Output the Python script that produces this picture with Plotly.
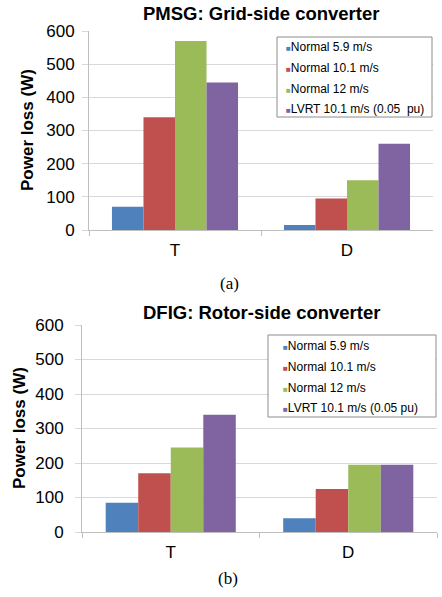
import plotly.graph_objects as go

# ---------------- data ----------------
categories = ["T", "D"]
series_names = ["Normal 5.9 m/s", "Normal 10.1 m/s", "Normal 12 m/s", "LVRT 10.1 m/s (0.05 pu)"]
series_colors = ["#4F81BD", "#C0504D", "#9BBB59", "#8064A2"]

# PMSG: Grid-side converter (W)
pmsg_normal_59 = [70, 15]
pmsg_normal_101 = [340, 95]
pmsg_normal_12 = [570, 150]
pmsg_lvrt_101 = [445, 260]

# DFIG: Rotor-side converter (W)
dfig_normal_59 = [85, 40]
dfig_normal_101 = [170, 125]
dfig_normal_12 = [245, 195]
dfig_lvrt_101 = [340, 195]

y_ticks = [0, 100, 200, 300, 400, 500, 600]

W, H = 442, 597
FONT = "Arial, Liberation Sans, sans-serif"

def px_x(x):
    return x / W

def px_y(y):
    return 1 - y / H

fig = go.Figure()

pmsg = [pmsg_normal_59, pmsg_normal_101, pmsg_normal_12, pmsg_lvrt_101]
dfig = [dfig_normal_59, dfig_normal_101, dfig_normal_12, dfig_lvrt_101]

for name, color, vals in zip(series_names, series_colors, pmsg):
    fig.add_trace(go.Bar(x=categories, y=vals, name=name, marker=dict(color=color, line=dict(width=0)),
                         xaxis="x", yaxis="y", showlegend=False))
for name, color, vals in zip(series_names, series_colors, dfig):
    fig.add_trace(go.Bar(x=categories, y=vals, name=name, marker=dict(color=color, line=dict(width=0)),
                         xaxis="x2", yaxis="y2", showlegend=False))

# legend entries (coloured square drawn as text glyph so it sits next to the label)
top_labels = ["Normal 5.9 m/s", "Normal 10.1 m/s", "Normal 12 m/s", "LVRT 10.1 m/s (0.05\u00a0 pu)"]
for i, (name, color) in enumerate(zip(top_labels, series_colors)):
    fig.add_trace(go.Scatter(x=[None], y=[None], mode="markers",
                             marker=dict(color="rgba(0,0,0,0)", size=1),
                             name=f"<span style='color:{color};font-size:8px'>■</span>{name}",
                             legend="legend", legendgroup=f"a{i}", xaxis="x", yaxis="y"))
for i, (name, color) in enumerate(zip(series_names, series_colors)):
    fig.add_trace(go.Scatter(x=[None], y=[None], mode="markers",
                             marker=dict(color="rgba(0,0,0,0)", size=1),
                             name=f"<span style='color:{color};font-size:8px'>■</span>{name}",
                             legend="legend2", legendgroup=f"b{i}", xaxis="x2", yaxis="y2"))

grid = "#D9D9D9"
axline = "#BFBFBF"

def xaxis(domain, anchor):
    return dict(domain=domain, anchor=anchor, type="category", categoryorder="array",
                categoryarray=categories, showline=True, linecolor=axline, linewidth=1,
                ticks="outside", tickson="boundaries", ticklen=5, tickcolor=axline,
                showgrid=False, tickfont=dict(family=FONT, size=17, color="#000"),
                ticklabelstandoff=5, fixedrange=True)

def yaxis(domain, anchor, standoff):
    return dict(domain=domain, anchor=anchor, range=[0, 600], tickvals=y_ticks,
                showline=True, linecolor=axline, linewidth=1, ticks="outside", ticklen=6,
                tickcolor=grid, showgrid=True, gridcolor=grid, gridwidth=1, zeroline=False,
                tickfont=dict(family=FONT, size=17, color="#000"), ticklabelstandoff=standoff,
                fixedrange=True)

top_x = [px_x(89), px_x(433)]
top_y = [px_y(230), px_y(31)]
bot_x = [px_x(82), px_x(437)]
bot_y = [px_y(532), px_y(325)]

fig.update_layout(
    width=W, height=H, margin=dict(l=0, r=0, t=0, b=0, autoexpand=False),
    paper_bgcolor="white", plot_bgcolor="white",
    barmode="group", bargap=0.267, bargroupgap=0,
    xaxis=xaxis(top_x, "y"), yaxis=yaxis(top_y, "x", 4),
    xaxis2=xaxis(bot_x, "y2"), yaxis2=yaxis(bot_y, "x2", 8),
    legend=dict(x=px_x(246), y=px_y(32), xanchor="left", yanchor="top",
                bgcolor="rgba(0,0,0,0)", borderwidth=0, tracegroupgap=1.7,
                font=dict(family=FONT, size=12, color="#000"), itemwidth=30),
    legend2=dict(x=px_x(243), y=px_y(331), xanchor="left", yanchor="top",
                 bgcolor="rgba(0,0,0,0)", borderwidth=0, tracegroupgap=1.7,
                 font=dict(family=FONT, size=12, color="#000"), itemwidth=30),
    shapes=[
        dict(type="rect", xref="paper", yref="paper", x0=px_x(277), x1=px_x(432),
             y0=px_y(117), y1=px_y(37), line=dict(color="#8C8C8C", width=1),
             fillcolor="white", layer="above"),
        dict(type="rect", xref="paper", yref="paper", x0=px_x(268), x1=px_x(436),
             y0=px_y(417), y1=px_y(335), line=dict(color="#8C8C8C", width=1),
             fillcolor="white", layer="above"),
    ],
    annotations=[
        dict(text="<b>PMSG: Grid-side converter</b>", x=px_x(261), y=px_y(13), xref="paper", yref="paper",
             showarrow=False, font=dict(family=FONT, size=18.5, color="#000"), xanchor="center", yanchor="middle"),
        dict(text="<b>DFIG: Rotor-side converter</b>", x=px_x(261), y=px_y(312), xref="paper", yref="paper",
             showarrow=False, font=dict(family=FONT, size=18.5, color="#000"), xanchor="center", yanchor="middle"),
        dict(text="<b>Power loss (W)</b>", x=px_x(27), y=px_y(130), xref="paper", yref="paper",
             showarrow=False, textangle=-90, font=dict(family=FONT, size=17, color="#000"),
             xanchor="center", yanchor="middle"),
        dict(text="<b>Power loss (W)</b>", x=px_x(19), y=px_y(428), xref="paper", yref="paper",
             showarrow=False, textangle=-90, font=dict(family=FONT, size=17, color="#000"),
             xanchor="center", yanchor="middle"),
        dict(text="(a)", x=px_x(229), y=px_y(283), xref="paper", yref="paper", showarrow=False,
             font=dict(family="Times New Roman, Liberation Serif, serif", size=17, color="#000"),
             xanchor="center", yanchor="middle"),
        dict(text="(b)", x=px_x(228), y=px_y(578), xref="paper", yref="paper", showarrow=False,
             font=dict(family="Times New Roman, Liberation Serif, serif", size=17, color="#000"),
             xanchor="center", yanchor="middle"),
    ],
)

fig.write_html("out.html")
